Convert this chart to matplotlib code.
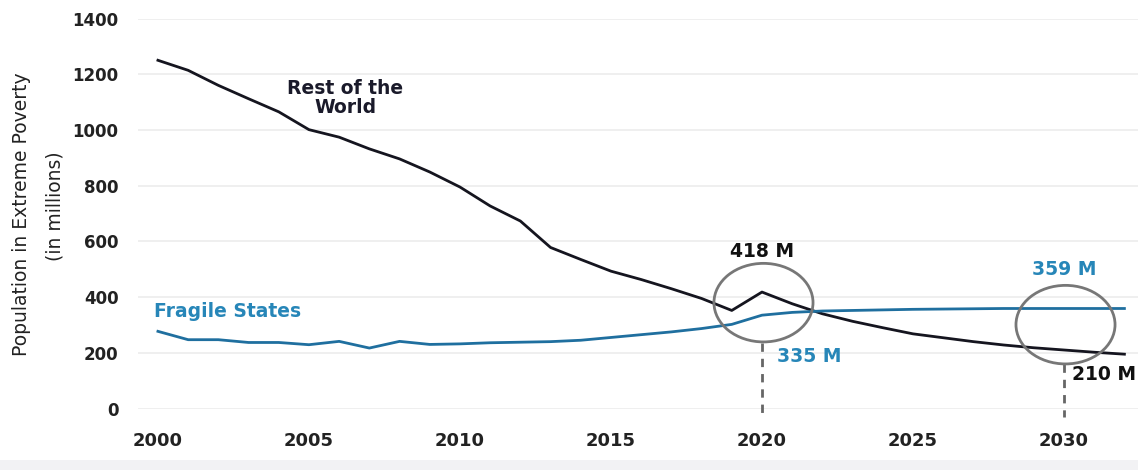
import matplotlib
matplotlib.use("Agg")
import matplotlib.pyplot as plt
from matplotlib.patches import Ellipse, Rectangle

years = list(range(2000, 2033))
rest_of_world = [1250, 1214, 1160, 1112, 1065, 1001, 974, 932, 896, 849,
                 795, 727, 673, 578, 535, 493, 463, 430, 395, 352,
                 418, 376, 340, 313, 290, 268, 254, 240, 228, 218,
                 210, 202, 195]
fragile_states = [277, 247, 247, 237, 237, 229, 241, 217, 241, 230,
                  232, 236, 238, 240, 245, 255, 265, 275, 287, 302,
                  335, 345, 350, 352, 354, 356, 357, 358, 359, 359,
                  359, 359, 359]
y_ticks = [0, 200, 400, 600, 800, 1000, 1200, 1400]
x_ticks = [2000, 2005, 2010, 2015, 2020, 2025, 2030]
highlight_years = [2020, 2030]
highlight_centers = [380, 301]

BLACK = "#15151f"
BLUE_LINE = "#1f6f9f"
BLUE_TEXT = "#2786b8"
GRAY = "#777777"

fig = plt.figure(figsize=(11.38, 4.70), dpi=100)
fig.patch.set_facecolor("white")
fig.patches.append(Rectangle((0, 0), 1, 10 / 470, transform=fig.transFigure,
                             facecolor="#f2f2f4", edgecolor="none", zorder=0))
ax = fig.add_axes([138 / 1138, 1 - 408.5 / 470, 1 - 138 / 1138, 390 / 470])
ax.set_xlim(1999.34, 2032.45)
ax.set_ylim(0, 1400)

for v in y_ticks:
    ax.axhline(v, color="#ececec", lw=1.2, zorder=0)

ax.plot(years, rest_of_world, color=BLACK, lw=2.0, zorder=3)
ax.plot(years, fragile_states, color=BLUE_LINE, lw=2.0, zorder=3)

for yr, c in zip(highlight_years, highlight_centers):
    ax.add_patch(Ellipse((yr + 0.05, c), 3.28, 282, fill=False,
                         edgecolor=GRAY, lw=2.0, zorder=4))

ax.plot([2020, 2020], [236, -25], color="#666666", lw=2.0,
        ls=(0, (3, 2.5)), clip_on=False, zorder=2)
ax.plot([2030, 2030], [160, -30], color="#666666", lw=2.0,
        ls=(0, (3, 2.5)), clip_on=False, zorder=2)

tfont = dict(family="DejaVu Sans", fontweight="bold", fontsize=13.5)
ax.text(2006.2, 1114, "Rest of the\nWorld", ha="center", va="center",
        color="#1a1a2a", linespacing=1.0, **tfont)
ax.text(1999.87, 349, "Fragile States", ha="left", va="center",
        color=BLUE_TEXT, **tfont)
ax.text(2020.0, 564, "418 M", ha="center", va="center", color="#111111", **tfont)
ax.text(2020.5, 186, "335 M", ha="left", va="center", color=BLUE_TEXT, **tfont)
ax.text(2030.0, 499, "359 M", ha="center", va="center", color=BLUE_TEXT, **tfont)
ax.text(2030.25, 121, "210 M", ha="left", va="center", color="#111111", **tfont)

ax.set_xticks(x_ticks)
ax.set_xticklabels([str(x) for x in x_ticks], fontsize=13,
                   fontweight="semibold", color="#222222")
ax.set_yticks(y_ticks)
ax.set_yticklabels([str(v) for v in y_ticks], fontsize=12,
                   fontweight="semibold", color="#222222")
ax.tick_params(axis="x", length=0, pad=17)
ax.tick_params(axis="y", length=0, pad=14)
for s in ax.spines.values():
    s.set_visible(False)

fig.text(22 / 1138, 1 - 214 / 470, "Population in Extreme Poverty",
         rotation=90, ha="center", va="center", fontsize=13.5, color="#222222")
fig.text(55 / 1138, 1 - 206 / 470, "(in millions)",
         rotation=90, ha="center", va="center", fontsize=13.5, color="#222222")

fig.savefig("out.png", dpi=100, facecolor="white")
